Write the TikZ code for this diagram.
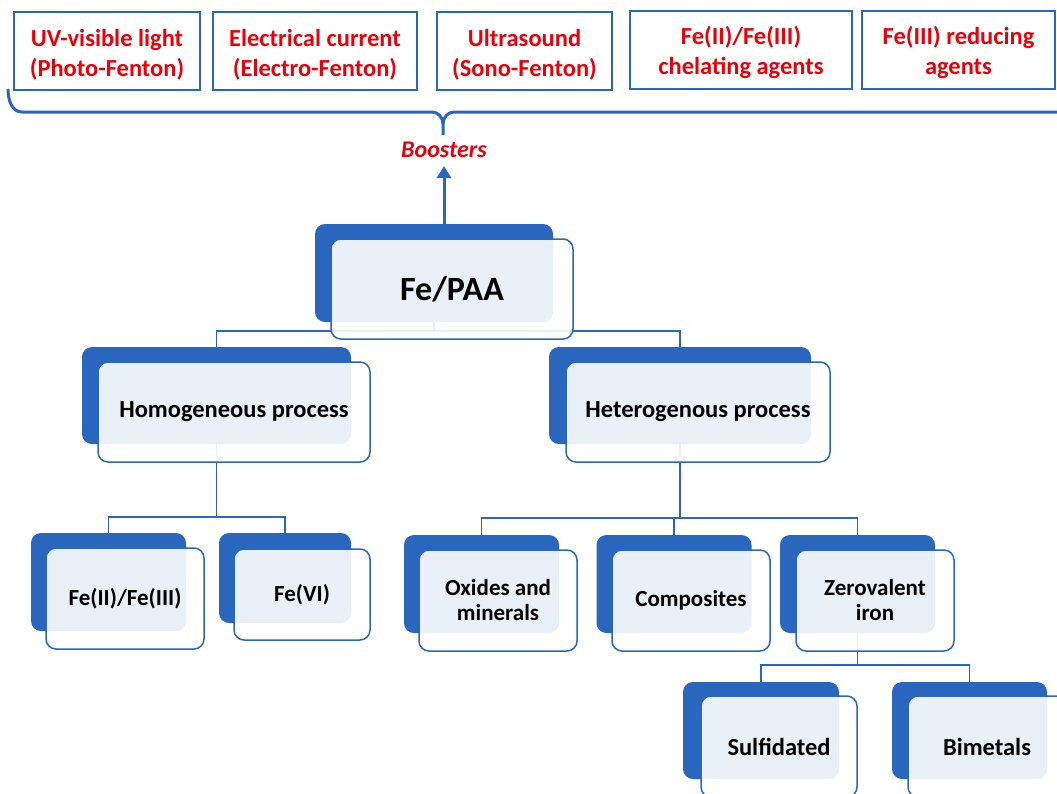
\documentclass[tikz,border=0pt]{standalone}
\usepackage{fontspec}
\setmainfont{Carlito}
\usetikzlibrary{arrows.meta,backgrounds}
\definecolor{fpblue}{HTML}{2A66BE}
\definecolor{boostred}{HTML}{E8000B}
\newcommand{\topstrut}{\rule{0pt}{24pt}}
\tikzset{
  backbox/.style={fill=fpblue, rounded corners=10pt, minimum width=155pt, minimum height=98pt, inner sep=0pt},
  frontbox/.style={draw=fpblue, line width=1.5pt, fill=white, fill opacity=0.9, text opacity=1,
    rounded corners=10pt, minimum width=158pt, minimum height=101pt, inner sep=0pt, align=center,
    font=\bfseries\fontsize{23}{25}\selectfont},
  boostbox/.style={draw=fpblue, line width=2.5pt, fill=white, minimum height=78pt, inner sep=0pt,
    align=center, text=boostred, font=\bfseries\fontsize{24.5}{30}\selectfont},
  conn/.style={draw=fpblue, line width=1.8pt},
}
\begin{document}
\begin{tikzpicture}[x=1pt,y=-1pt]
\useasboundingbox (0,0) rectangle (1057,793);
% boosters row
\node[boostbox, minimum width=186pt] (uv) at (107,51) {\topstrut UV-visible light\\(Photo-Fenton)};
\node[boostbox, minimum width=204pt] (elec) at (315,51) {\topstrut Electrical current\\(Electro-Fenton)};
\node[boostbox, minimum width=175pt] (sono) at (524.5,51) {\topstrut Ultrasound\\(Sono-Fenton)};
\node[boostbox, minimum width=222pt] (chel) at (741,50) {\topstrut Fe(II)/Fe(III)\\chelating agents};
\node[boostbox, minimum width=193pt] (redu) at (958.5,50) {\topstrut Fe(III) reducing\\agents};
% brace under the boosters
\draw[fpblue, line width=3pt] (8,89) to[out=-90,in=180] (22,112) -- (432,112) to[out=0,in=90] (443,124) -- (443,135);
\draw[fpblue, line width=3pt] (443,124) to[out=90,in=180] (454,112) -- (1062,112);
\node[text=boostred, font=\bfseries\itshape\fontsize{24}{28}\selectfont, inner sep=2pt] (boost) at (444,150) {Boosters};
% Fe/PAA
\node[backbox, minimum width=238pt] (paab) at (434,273) {};
\node[frontbox, minimum width=242pt, minimum height=100pt, font=\bfseries\fontsize{34}{38}\selectfont] (paa) at ([shift={(18,16)}]paab) {Fe/PAA};
% processes
\node[backbox, minimum width=269pt, minimum height=97pt] (homb) at (216.5,395.5) {};
\node[frontbox, minimum width=272pt, minimum height=100pt, font=\bfseries\fontsize{24.5}{28}\selectfont] (hom) at ([shift={(17.5,16.5)}]homb) {Homogeneous process};
\node[backbox, minimum width=262pt, minimum height=97pt] (hetb) at (680,395.5) {};
\node[frontbox, minimum width=264pt, minimum height=100pt, font=\bfseries\fontsize{24.5}{28}\selectfont] (het) at ([shift={(18,16.5)}]hetb) {Heterogenous process};
% homogeneous branch
\node[backbox] (fe23b) at (108.5,582) {};
\node[frontbox] (fe23) at ([shift={(16.5,16.5)}]fe23b) {Fe(II)/Fe(III)};
\node[backbox, minimum width=132pt, minimum height=90pt] (fe6b) at (285,578) {};
\node[frontbox, minimum width=136pt, minimum height=91pt] (fe6) at ([shift={(17,16.5)}]fe6b) {Fe(VI)};
% heterogenous branch
\node[backbox] (oxb) at (481.5,584) {};
\node[frontbox] (ox) at ([shift={(16.5,16.5)}]oxb) {Oxides and\\minerals};
\node[backbox] (compb) at (674,584) {};
\node[frontbox] (comp) at ([shift={(17,16.5)}]compb) {Composites};
\node[backbox] (zvib) at (857.5,584) {};
\node[frontbox] (zvi) at ([shift={(17.5,16.5)}]zvib) {Zerovalent\\iron};
% zerovalent iron branch
\node[backbox, minimum width=156pt, minimum height=97pt] (sulb) at (761,730.5) {};
\node[frontbox, minimum width=156pt, font=\bfseries\fontsize{24.5}{28}\selectfont] (sul) at ([shift={(18,16)}]sulb) {Sulfidated};
\node[backbox, minimum height=97pt] (bimb) at (969.5,730.5) {};
\node[frontbox, font=\bfseries\fontsize{24.5}{28}\selectfont] (bim) at ([shift={(17.5,16)}]bimb) {Bimetals};
% arrow to the boosters
\draw[fpblue, line width=3pt, shorten >=6pt, -{Triangle[width=14pt,length=12pt]}] (paab.north -| boost) -- (boost.south);
% tree connectors
\begin{scope}[on background layer]
\coordinate (busA) at (paab.center |- 0,331);
\coordinate (busB) at (homb.center |- 0,517);
\coordinate (busC) at (hetb.center |- 0,518);
\coordinate (busD) at (zvib.center |- 0,665);
\draw[conn] (paab.center) -- (busA) -| (homb.north);
\draw[conn] (busA) -| (hetb.north);
\draw[conn] (homb.center) -- (busB) -| (fe23b.north);
\draw[conn] (busB) -| (fe6b.north);
\draw[conn] (hetb.center) -- (busC) -| (oxb.north);
\draw[conn] (busC) -| (compb.north);
\draw[conn] (busC) -| (zvib.north);
\draw[conn] (zvib.center) -- (busD) -| (sulb.north);
\draw[conn] (busD) -| (bimb.north);
\end{scope}
\end{tikzpicture}
\end{document}
